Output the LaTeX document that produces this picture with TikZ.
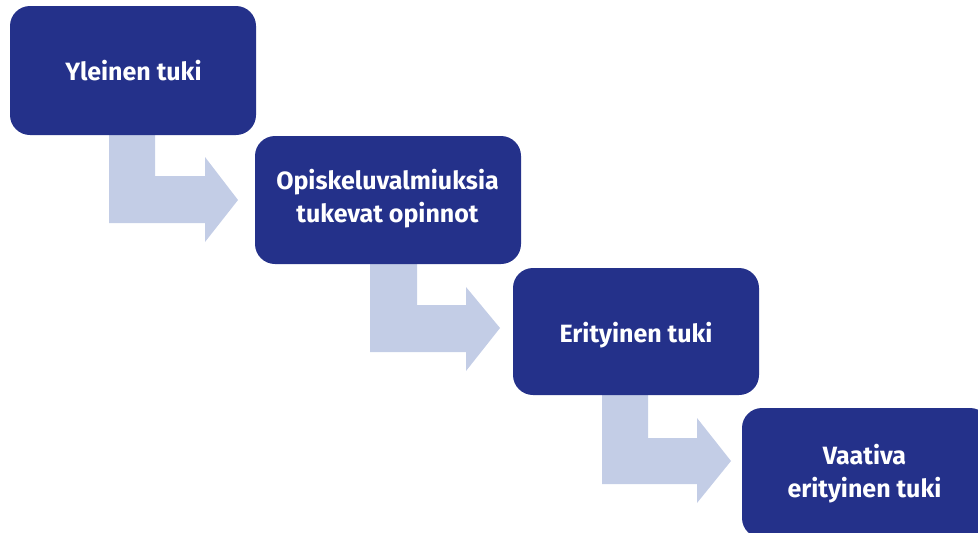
\documentclass[tikz,border=0pt]{standalone}
\usepackage{fontspec}
\setmainfont{Fira Sans}
\definecolor{boxblue}{HTML}{24318A}
\definecolor{arrowblue}{HTML}{C3CDE6}
\begin{document}
\begin{tikzpicture}[x=1pt,y=-1pt,
  stagebox/.style={fill=boxblue, rounded corners=20pt},
  stagetext/.style={text=white, font=\bfseries\fontsize{25}{33}\selectfont, align=center, inner sep=0pt},
  bentarrow/.style={fill=arrowblue}]
\useasboundingbox (0,0) rectangle (978,533);
\clip (0,0) rectangle (978,533);
% arrows
\fill[bentarrow] (109,130) -- (155,130) -- (155,176) -- (205,176) -- (205,157) -- (238,200) -- (205,242) -- (205,223) -- (109,223) -- cycle;
\fill[bentarrow] (370,260) -- (417,260) -- (417,305) -- (466,305) -- (466,287) -- (500,328) -- (466,371) -- (466,352) -- (370,352) -- cycle;
\fill[bentarrow] (602,390) -- (648,390) -- (648,438) -- (697,438) -- (697,418) -- (731,461) -- (697,503) -- (697,484) -- (602,484) -- cycle;
% boxes
\path[stagebox] (10,6) rectangle (256,135);
\node[stagetext, anchor=base] (b1) at (133.5,80) {Yleinen tuki};
\path[stagebox] (255,136) rectangle (521,264);
\node[stagetext] (b2) at (387.5,199) {Opiskeluvalmiuksia\\tukevat opinnot};
\path[stagebox] (513,268) rectangle (759,395);
\node[stagetext, anchor=base] (b3) at (636,342) {Erityinen tuki};
\path[stagebox] (742,408) rectangle (990,538);
\node[stagetext] (b4) at (864.5,474) {Vaativa\\erityinen tuki};
\end{tikzpicture}
\end{document}
